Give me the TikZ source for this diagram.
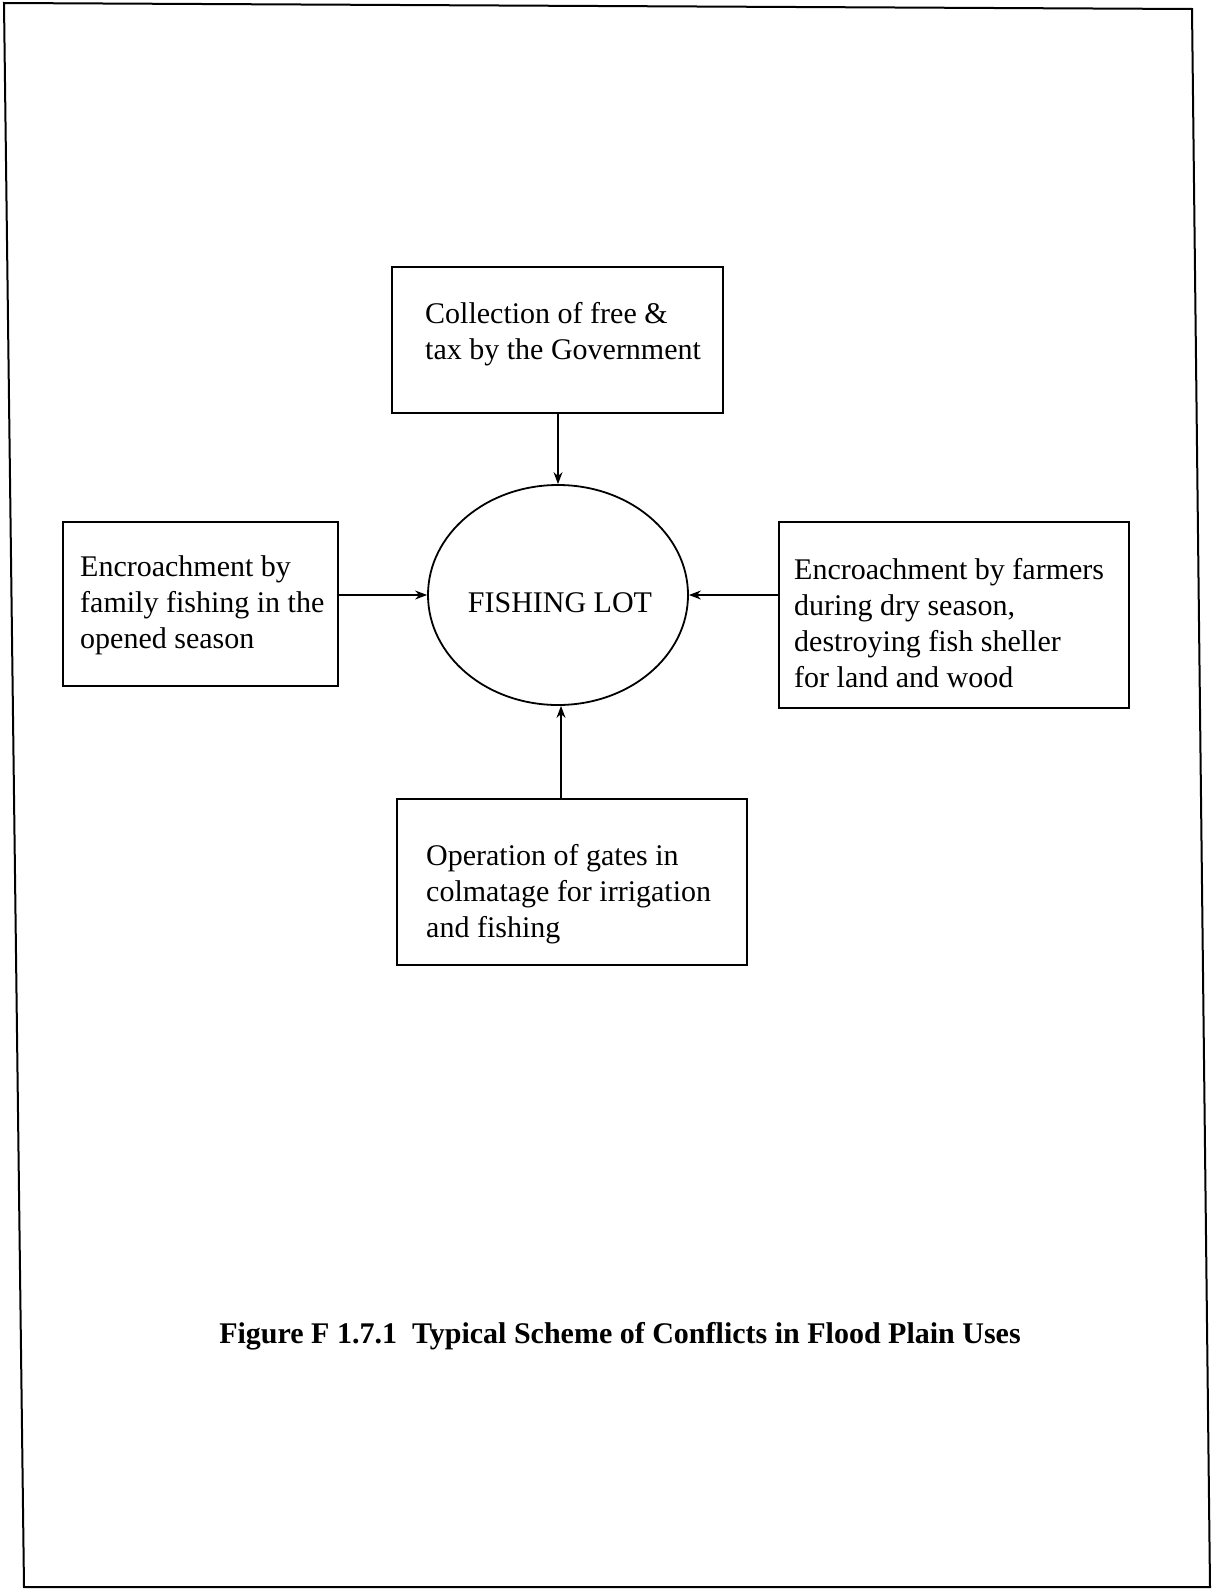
\documentclass[tikz,border=0pt]{standalone}
\usepackage{fontspec}
\setmainfont{Liberation Serif}
\usetikzlibrary{arrows.meta,shapes.geometric}
\begin{document}
\begin{tikzpicture}[x=1pt,y=-1pt,
  every node/.style={font=\fontsize{30}{36}\selectfont},
  box/.style={draw,line width=1.6pt,rectangle,inner sep=0pt},
  label/.style={anchor=base west,align=left,inner sep=0pt},
  link/.style={line width=1.2pt,-{Stealth[length=12pt,width=9pt]}}]
\useasboundingbox (0,0) rectangle (1213,1590);
% page frame
\draw[line width=2pt] (4,3) -- (1192,9) -- (1210,1587) -- (24,1587) -- cycle;

% central node
\node[draw,ellipse,line width=1.8pt,minimum width=260pt,minimum height=220pt,inner sep=0pt] (fl) at (558,595) {};
\node[anchor=base,inner sep=0pt] (fltext) at (560,612) {FISHING LOT};

% surrounding boxes
\node[box,minimum width=331pt,minimum height=146pt] (gov) at (557.5,340) {};
\node[box,minimum width=275pt,minimum height=164pt] (fam) at (200.5,604) {};
\node[box,minimum width=350pt,minimum height=186pt] (farm) at (954,615) {};
\node[box,minimum width=350pt,minimum height=166pt] (gates) at (572,882) {};

% box texts (anchored at the baseline of their last line)
\node[label] (govtext) at (425,359) {Collection of free \&\\tax by the Government};
\node[label] (famtext) at (80,648) {Encroachment by\\family fishing in the\\opened season};
\node[label] (farmtext) at (794,687) {Encroachment by farmers\\during dry season,\\destroying fish sheller\\for land and wood};
\node[label] (gatestext) at (426,937) {Operation of gates in\\colmatage for irrigation\\and fishing};

% connectors
\draw[link] (gov.south -| fl.north) -- (fl.north);
\draw[link] (fam.east |- fl.west) -- (fl.west);
\draw[link] (farm.west |- fl.east) -- (fl.east);
\draw[link] ([xshift=3pt]gates.north -| fl.south) -- ([xshift=3pt]fl.south);

% caption
\node[anchor=base,inner sep=0pt,font=\fontsize{30}{36}\selectfont\bfseries] (caption) at (620,1343)
  {Figure F 1.7.1\ \ Typical Scheme of Conflicts in Flood Plain Uses};
\end{tikzpicture}
\end{document}
